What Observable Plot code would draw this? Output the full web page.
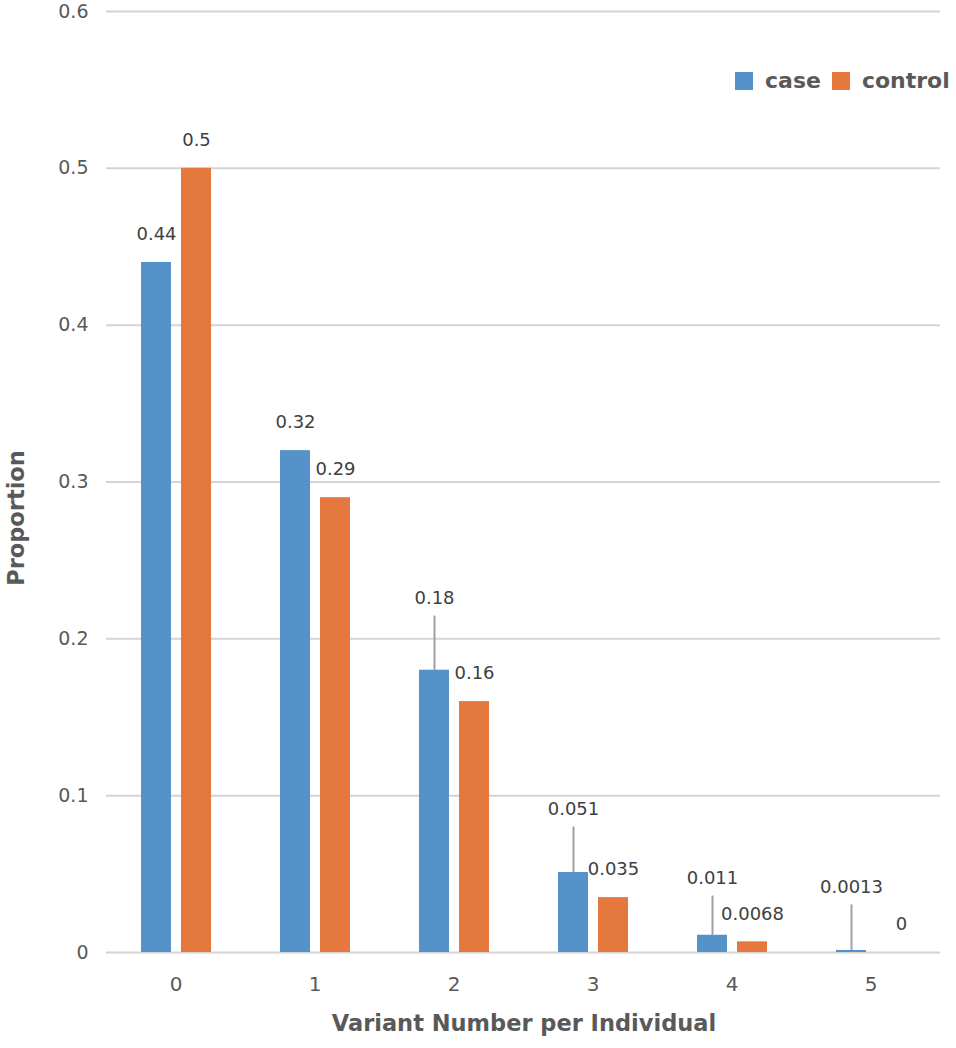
<!DOCTYPE html>
<html>
<head>
<meta charset="utf-8">
<script src="https://cdn.jsdelivr.net/npm/d3@7"></script>
<script src="https://cdn.jsdelivr.net/npm/@observablehq/plot@0.6"></script>
<style>
  body { margin: 0; background: #fff; }
  #wrap { position: relative; width: 956px; height: 1048px; font-family: "DejaVu Sans", sans-serif; }
  #legend { position: absolute; top: 68px; left: 735px; display: flex; align-items: center; font-weight: bold; font-size: 22px; color: #595959; }
  #legend .sw { width: 18px; height: 18px; display: inline-block; margin-right: 12px; }
  #legend .item { display: flex; align-items: center; margin-right: 11px; }
</style>
</head>
<body>
<div id="wrap"><div id="legend"></div></div>
<script>
const categories = ["0", "1", "2", "3", "4", "5"];
const series = ["case", "control"];
const caseValues = [0.44, 0.32, 0.18, 0.051, 0.011, 0.0013];
const controlValues = [0.5, 0.29, 0.16, 0.035, 0.0068, 0];
const labelText = {
  case: ["0.44", "0.32", "0.18", "0.051", "0.011", "0.0013"],
  control: ["0.5", "0.29", "0.16", "0.035", "0.0068", "0"]
};
const yTicks = [0, 0.1, 0.2, 0.3, 0.4, 0.5, 0.6];
const colors = ["#5592ca", "#e5783e"];

// leader-line lengths (in data units) for labels moved above their bars
const leaderLift = {
  case: [0, 0, 0.0345, 0.029, 0.025, 0.029],
  control: [0, 0, 0, 0, 0, 0]
};

const data = [];
categories.forEach((c, i) => {
  data.push({cat: c, series: "case", value: caseValues[i], label: labelText.case[i], lift: leaderLift.case[i]});
  data.push({cat: c, series: "control", value: controlValues[i], label: labelText.control[i], lift: leaderLift.control[i]});
});

const textColor = "#404040";
const chart = Plot.plot({
  width: 956,
  height: 1048,
  marginLeft: 105,
  marginRight: 16,
  marginTop: 11,
  marginBottom: 96,
  style: { fontFamily: "DejaVu Sans, sans-serif", background: "#fff", overflow: "visible" },
  fx: { domain: categories, padding: 0, label: null },
  x: { domain: series, paddingInner: 0.25, paddingOuter: 0.8625, axis: null },
  y: { domain: [0, 0.6], ticks: yTicks, label: null, axis: null },
  color: { domain: series, range: colors },
  marks: [
    Plot.gridY(yTicks, { stroke: "#d4d4d4", strokeOpacity: 1, strokeWidth: 2 }),
    Plot.axisY(yTicks, { tickSize: 0, tickPadding: 18, fontSize: 19, fill: "#595959", tickFormat: d => String(d), anchor: "left" }),
    Plot.axisFx({ tickSize: 0, tickPadding: 24, fontSize: 20, fill: "#595959", label: null, anchor: "bottom" }),
    Plot.ruleX(data.filter(d => d.lift > 0), { fx: "cat", x: "series", y1: "value", y2: d => d.value + d.lift, stroke: "#a0a0a0", strokeWidth: 2 }),
    Plot.barY(data, { fx: "cat", x: "series", y: "value", fill: "series" }),
    Plot.text(data.filter(d => d.lift === 0 && d.value > 0), { fx: "cat", x: "series", y: "value", text: "label", dy: -28, fontSize: 18, fill: textColor }),
    Plot.text(data.filter(d => d.value === 0), { fx: "cat", x: "series", y: "value", text: "label", dy: -28, dx: 10, fontSize: 18, fill: textColor }),
    Plot.text(data.filter(d => d.lift > 0), { fx: "cat", x: "series", y: d => d.value + d.lift, text: "label", dy: -18, fontSize: 18, fill: textColor })
  ]
});

const svg = d3.select(chart);
// axis titles
svg.append("text")
  .attr("x", 524).attr("y", 1031)
  .attr("text-anchor", "middle")
  .attr("font-size", 22.5).attr("font-weight", "bold").attr("fill", "#595959")
  .attr("font-family", "DejaVu Sans, sans-serif")
  .text("Variant Number per Individual");
svg.append("text")
  .attr("transform", "translate(24,518) rotate(-90)")
  .attr("text-anchor", "middle")
  .attr("font-size", 22.5).attr("font-weight", "bold").attr("fill", "#595959")
  .attr("font-family", "DejaVu Sans, sans-serif")
  .text("Proportion");

document.getElementById("wrap").prepend(chart);

const legend = d3.select("#legend");
series.forEach((s, i) => {
  const it = legend.append("div").attr("class", "item");
  it.append("span").attr("class", "sw").style("background", colors[i]);
  it.append("span").text(s);
});
</script>
</body>
</html>
